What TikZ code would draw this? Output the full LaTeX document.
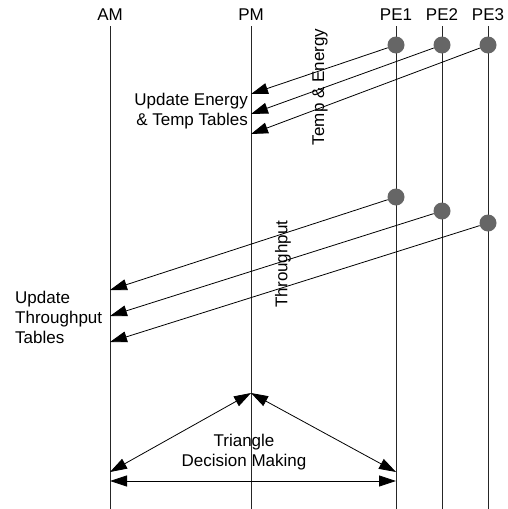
\documentclass[tikz,border=0pt]{standalone}
\usepackage{fontspec}
\setmainfont{Liberation Sans}
\usetikzlibrary{arrows.meta}

\begin{document}
\begin{tikzpicture}[x=1pt,y=-1pt,
    lbl/.style={font=\fontsize{17}{20}\selectfont, inner sep=1pt},
    life/.style={draw=black!85, line width=0.8pt},
    dot/.style={circle, fill=black!60, minimum size=17pt, inner sep=0pt},
    msg/.style={-{Triangle[length=17pt,width=11pt]}, line width=0.8pt},
    both/.style={{Triangle[length=17pt,width=11pt]}-{Triangle[length=17pt,width=11pt]}, line width=0.8pt}]
  \useasboundingbox (0,0) rectangle (508,509);
  % lifelines with their heads
  \foreach \n/\x/\t in {am/110/AM, pm/251/PM, pe1/396/PE1, pe2/442/PE2, pe3/488/PE3} {
    \node[lbl, inner sep=5pt] (\n) at (\x,15) {\t};
    \coordinate (\n-end) at (\x,509);
    \draw[life] (\n) -- (\n-end);
  }
  % temp & energy messages to PM
  \foreach \i/\x/\y in {1/396/94, 2/442/114, 3/488/134} {
    \node[dot] (te\i) at (\x,45) {};
    \coordinate (pm-in\i) at (251,\y);
    \draw[msg] (te\i) -- (pm-in\i);
  }
  \node[lbl, rotate=90] (te-lbl) at (320,87) {Temp \& Energy};
  \node[lbl, align=right, anchor=east] (upd-te) at (249,111) {Update Energy\\\& Temp Tables};
  % throughput messages to AM
  \foreach \i/\x/\ys/\yt in {1/396/197/290, 2/442/211/316, 3/488/223/342} {
    \node[dot] (tp\i) at (\x,\ys) {};
    \coordinate (am-in\i) at (110,\yt);
    \draw[msg] (tp\i) -- (am-in\i);
  }
  \node[lbl, rotate=90] (tp-lbl) at (283,264) {Throughput};
  \node[lbl, align=left, anchor=west] (upd-tp) at (14,317) {Update\\Throughput\\Tables};
  % triangle decision making
  \coordinate (apex) at (251,393);
  \coordinate (left) at (110,472);
  \coordinate (right) at (396,472);
  \coordinate (base-l) at (110,481);
  \coordinate (base-r) at (396,481);
  \draw[both] (left) -- (apex);
  \draw[both] (apex) -- (right);
  \draw[both] (base-l) -- (base-r);
  \node[lbl, align=center] (tri-lbl) at (244,452) {Triangle\\Decision Making};
\end{tikzpicture}
\end{document}
